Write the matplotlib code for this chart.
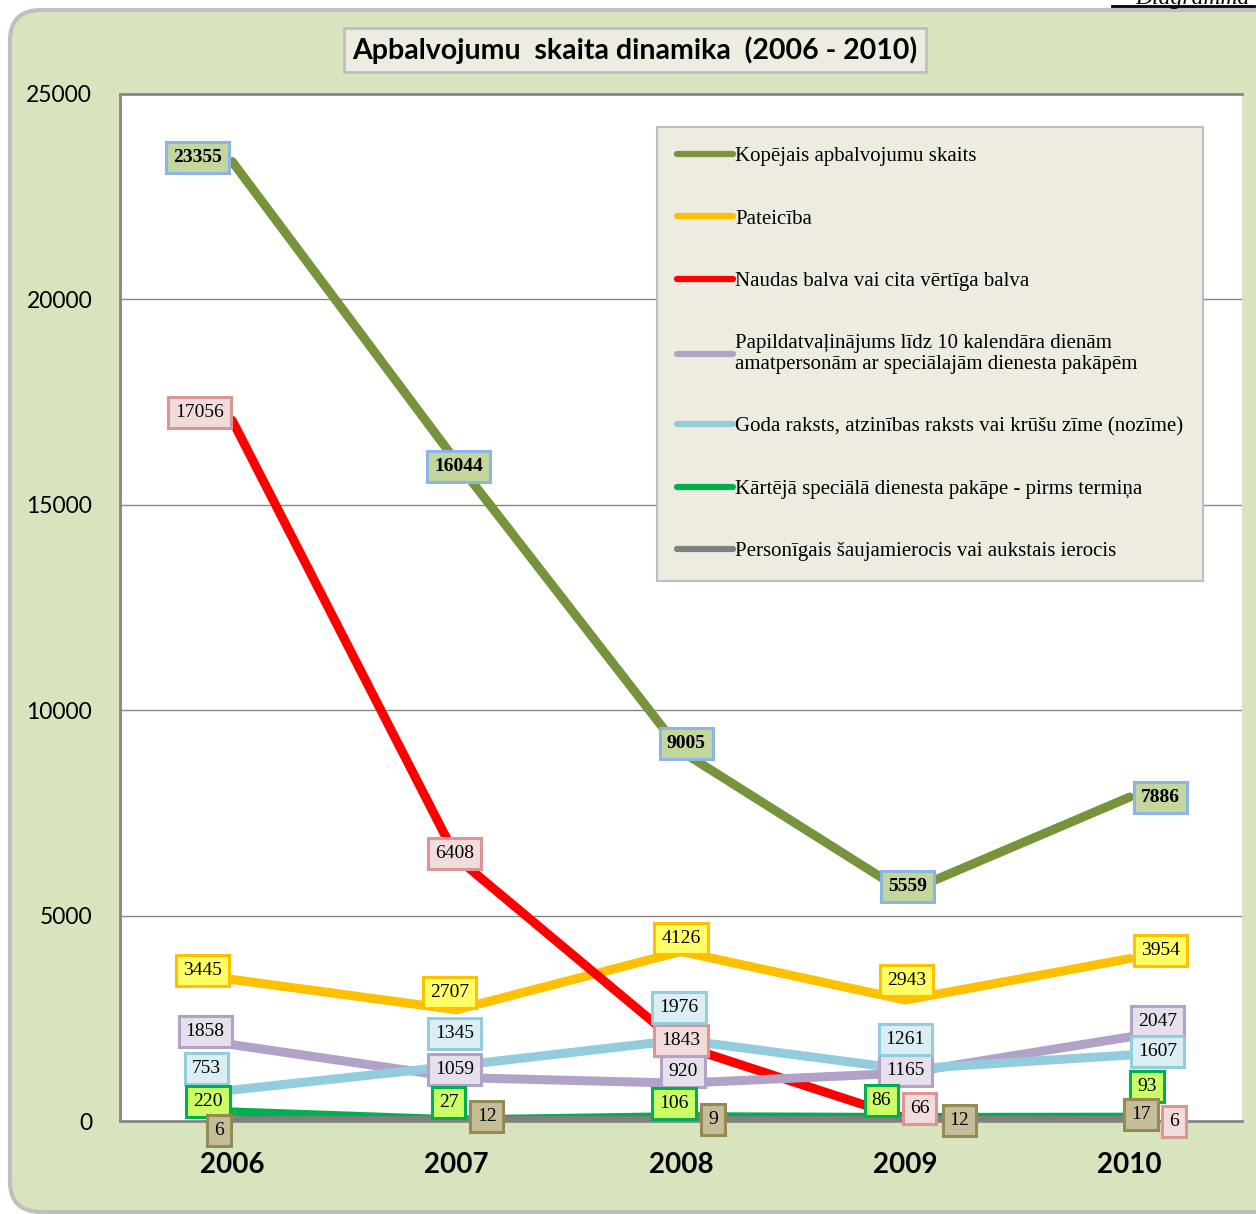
import matplotlib
matplotlib.use("Agg")
import matplotlib.pyplot as plt
from matplotlib.patches import FancyBboxPatch
from matplotlib.lines import Line2D

# ---------------- data ----------------
years = ["2006", "2007", "2008", "2009", "2010"]
series_names = [
    "Kopējais apbalvojumu skaits",
    "Pateicība",
    "Naudas balva vai cita vērtīga balva",
    "Papildatvaļinājums līdz 10 kalendāra dienām\namatpersonām ar speciālajām dienesta pakāpēm",
    "Goda raksts, atzinības raksts vai krūšu zīme (nozīme)",
    "Kārtējā speciālā dienesta pakāpe - pirms termiņa",
    "Personīgais šaujamierocis vai aukstais ierocis",
]
kopejais = [23355, 16044, 9005, 5559, 7886]
pateiciba = [3445, 2707, 4126, 2943, 3954]
naudas = [17056, 6408, 1843, 66, 6]
papildatv = [1858, 1059, 920, 1165, 2047]
goda = [753, 1345, 1976, 1261, 1607]
kartejas = [220, 27, 106, 86, 93]
personigais = [6, 12, 9, 12, 17]
y_ticks = [0, 5000, 10000, 15000, 20000, 25000]

series_values = [kopejais, pateiciba, naudas, papildatv, goda, kartejas, personigais]

# ---------------- styles ----------------
line_colors = ["#77933C", "#FFC000", "#FF0000", "#B3A2C7", "#93CDDD", "#00B050", "#808080"]
label_face = ["#C3D69B", "#FFFF66", "#F2DCDB", "#E6E0EC", "#DBEEF4", "#CCFF66", "#C4BD97"]
label_edge = ["#8EB4E3", "#FFC000", "#D99694", "#B3A2C7", "#93CDDD", "#00B050", "#948A54"]
# label offsets (pixels) relative to the data point
label_offsets = [
    [(-35, 4), (2, -5), (5, 8), (2, 6), (31, 0)],
    [(-30, 9), (-7, 17), (0, 13), (1, 20), (31, 8)],
    [(-33, 8), (-2, 4), (0, 5), (14, 10), (44, -1)],
    [(-27, 13), (-2, 8), (2, 12), (0, 3), (28, 15)],
    [(-26, 22), (-2, 32), (-2, 32), (0, 30), (28, 3)],
    [(-24, 10), (-8, 17), (-7, 13), (-24, 17), (17, 31)],
    [(-13, -10), (30, 4), (32, 1), (54, 0), (11, 6)],
]

W, H = 1256, 1214
fig = plt.figure(figsize=(W / 100, H / 100), dpi=100)
fig.patch.set_facecolor("white")

# rounded green frame
frame = FancyBboxPatch((10 / W, 2 / H), 1.2, (1204 - 2) / H,
                       boxstyle="round,pad=0,rounding_size=0.025",
                       transform=fig.transFigure, facecolor="#D7E4BD",
                       edgecolor="#BFBFBF", linewidth=3, zorder=0)
fig.patches.append(frame)

ax = fig.add_axes([120 / W, 1 - 1121 / H, 1122 / W, (1121 - 94) / H])
ax.set_facecolor("white")
ax.set_zorder(1)

x = list(range(len(years)))
for i, (name, vals) in enumerate(zip(series_names, series_values)):
    ax.plot(x, vals, color=line_colors[i], lw=6.5, solid_capstyle="round",
            label=name, zorder=2 + i)

for i, vals in enumerate(series_values):
    for j, v in enumerate(vals):
        ax.annotate(f"{v}", (x[j], v), xytext=label_offsets[i][j],
                    textcoords="offset pixels", ha="center", va="center",
                    fontsize=14, family="Liberation Serif",
                    fontweight="bold" if i == 0 else "normal",
                    color="black", zorder=20,
                    bbox=dict(boxstyle="square,pad=0.36", facecolor=label_face[i],
                              edgecolor=label_edge[i], linewidth=2.2))

ax.set_xlim(-0.5, 4.5)
ax.set_ylim(0, 25000)
ax.set_yticks(y_ticks)
ax.set_yticklabels([str(t) for t in y_ticks], fontsize=16.5, family="Lato")
ax.set_xticks(x)
ax.set_xticklabels(years, fontsize=20, fontweight="bold", family="Lato")
ax.tick_params(axis="y", length=0, pad=20)
ax.tick_params(axis="x", length=0, pad=22)
ax.yaxis.grid(True, color="#868686", lw=1)
ax.set_axisbelow(True)
ax.spines["right"].set_visible(False)
for s in ["top", "left", "bottom"]:
    ax.spines[s].set_color("#868686")
    ax.spines[s].set_linewidth(2)

leg = ax.legend(loc="upper left", bbox_to_anchor=(657 / W, 1 - 127 / H),
                bbox_transform=fig.transFigure, borderaxespad=0,
                prop={"family": "Liberation Serif", "size": 15},
                frameon=True, fancybox=False, facecolor="#EEECE1",
                edgecolor="#BFBFBF", framealpha=1, handlelength=2.7,
                handletextpad=0.1, labelspacing=2.05, borderpad=0.95)
leg.get_frame().set_linewidth(1.5)
for h in leg.legend_handles:
    h.set_linewidth(4.5)
leg.set_zorder(30)

# title
fig.text(635 / W, 1 - 50 / H, "Apbalvojumu  skaita dinamika  (2006 - 2010)",
         ha="center", va="center", fontsize=20.5, fontweight="bold", family="Lato",
         bbox=dict(boxstyle="square,pad=0.3", facecolor="#EEECE1",
                   edgecolor="#BFBFBF", linewidth=2))

# partly cut-off caption at top right (as in the source page)
fig.text(1250 / W, 1 - 4 / H, "Diagramma", ha="right", va="baseline",
         fontsize=17, style="italic", family="Liberation Serif")
fig.add_artist(Line2D([1112 / W, 1254 / W], [1 - 6 / H, 1 - 6 / H],
                      transform=fig.transFigure, color="black", lw=2))

fig.savefig("out.png", dpi=100)
